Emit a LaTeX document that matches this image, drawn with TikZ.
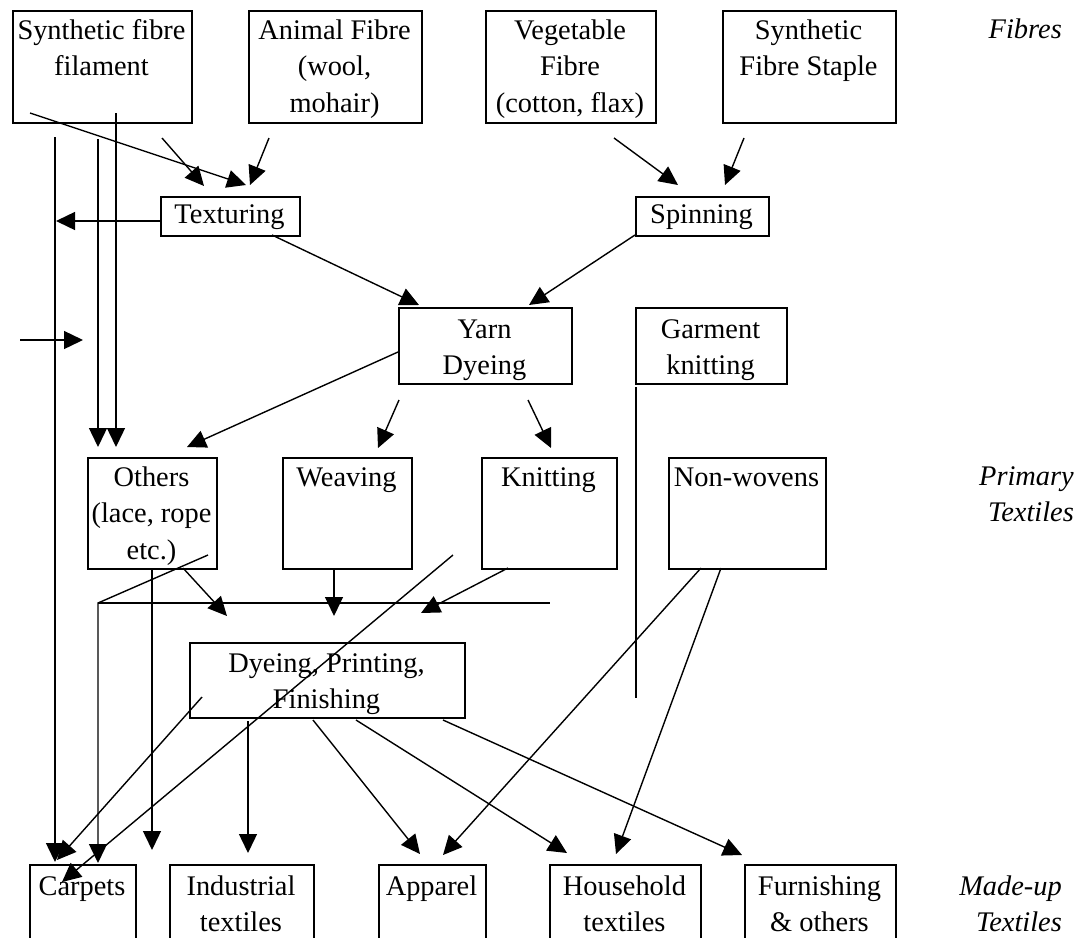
\documentclass[tikz,border=0pt]{standalone}
\usepackage{fontspec}
\setmainfont{Liberation Serif}
\usetikzlibrary{arrows.meta}
\begin{document}
\begin{tikzpicture}[x=1pt,y=-1pt,
  box/.style={draw, line width=1.5pt, inner sep=0pt, anchor=north west},
  txt/.style={anchor=north, inner sep=0pt, align=center, yshift=25.55pt, font=\fontsize{28.4}{36.5}\selectfont},
  lbl/.style={anchor=north east, inner sep=0pt, align=right, yshift=25.55pt, font=\fontsize{28.4}{36.5}\selectfont\itshape},
  con/.style={line width=1.4pt},
  arr/.style={con, -{Triangle[length=19pt,width=18pt]}}]
\useasboundingbox[fill=white] (0,0) rectangle (1083,937);
\clip (0,0) rectangle (1083,937);

% ---- boxes ----
\node[box, minimum width=179pt, minimum height=112pt] (sff)  at (12,10) {};
\node[box, minimum width=173pt, minimum height=112pt] (anim) at (248,10) {};
\node[box, minimum width=170pt, minimum height=112pt] (veg)  at (485,10) {};
\node[box, minimum width=173pt, minimum height=112pt] (stap) at (722,10) {};
\node[box, minimum width=139pt, minimum height=39pt]  (tex)  at (160,196) {};
\node[box, minimum width=133pt, minimum height=39pt]  (spin) at (635,196) {};
\node[box, minimum width=173pt, minimum height=76pt]  (yarn) at (398,307) {};
\node[box, minimum width=151pt, minimum height=76pt]  (garm) at (635,307) {};
\node[box, minimum width=129pt, minimum height=111pt] (oth)  at (87,457) {};
\node[box, minimum width=129pt, minimum height=111pt] (weav) at (282,457) {};
\node[box, minimum width=135pt, minimum height=111pt] (knit) at (481,457) {};
\node[box, minimum width=157pt, minimum height=111pt] (nonw) at (668,457) {};
\node[box, minimum width=275pt, minimum height=75pt]  (dpf)  at (189,642) {};
\node[box, minimum width=106pt, minimum height=100pt] (carp) at (29,864) {};
\node[box, minimum width=144pt, minimum height=100pt] (ind)  at (169,864) {};
\node[box, minimum width=107pt, minimum height=100pt] (app)  at (378,864) {};
\node[box, minimum width=151pt, minimum height=100pt] (hous) at (549,864) {};
\node[box, minimum width=151pt, minimum height=100pt] (furn) at (744,864) {};

% ---- texts ----
\node[txt] (sff-t)  at (101.5,39) {\strut Synthetic fibre\\filament};
\node[txt] (anim-t) at (334.5,39) {\strut Animal Fibre\\(wool,\\mohair)};
\node[txt] (veg-t)  at (570,39)   {\strut Vegetable\\Fibre\\(cotton, flax)};
\node[txt] (stap-t) at (808.5,39) {\strut Synthetic\\Fibre Staple};
\node[txt] (tex-t)  at (229.5,223) {\strut Texturing};
\node[txt] (spin-t) at (701.5,223) {\strut Spinning};
\node[txt] (yarn-t) at (484.5,338) {\strut Yarn\\Dyeing};
\node[txt] (garm-t) at (710.5,338) {\strut Garment\\knitting};
\node[txt] (oth-t)  at (151.5,486) {\strut Others\\(lace, rope\\etc.)};
\node[txt] (weav-t) at (346.5,486) {\strut Weaving};
\node[txt] (knit-t) at (548.5,486) {\strut Knitting};
\node[txt] (nonw-t) at (746.5,486) {\strut Non-wovens};
\node[txt] (dpf-t)  at (326.5,672) {\strut Dyeing, Printing,\\Finishing};
\node[txt] (carp-t) at (82,895)    {\strut Carpets};
\node[txt] (ind-t)  at (241,895)   {\strut Industrial\\textiles};
\node[txt] (app-t)  at (431.5,895) {\strut Apparel};
\node[txt] (hous-t) at (624.5,895) {\strut Household\\textiles};
\node[txt] (furn-t) at (819.5,895) {\strut Furnishing\\\& others};
\node[lbl] (fib)  at (1062,38)  {\strut Fibres};
\node[lbl] (prim) at (1074,485) {\strut Primary\\Textiles};
\node[lbl] (made) at (1062,895) {\strut Made-up\\Textiles};

% ---- connector end points ----
\coordinate (a1) at (30,113);   \coordinate (b1) at (246,185);
\coordinate (a2) at (162,138);  \coordinate (b2) at (204,186);
\coordinate (a3) at (269,138);  \coordinate (b3) at (250,185);
\coordinate (v1a) at (55,137);  \coordinate (v1b) at (55,862);
\coordinate (v2a) at (98,139);  \coordinate (v2b) at (98,447);
\coordinate (v3a) at (116,113); \coordinate (v3b) at (116,447);
\coordinate (t1) at (160,221);  \coordinate (t2) at (56,221);
\coordinate (f1) at (20,340);   \coordinate (f2) at (83,340);
\coordinate (ty1) at (272,235); \coordinate (ty2) at (419,305);
\coordinate (sy1) at (635,235); \coordinate (sy2) at (529,305);
\coordinate (vs1) at (614,138); \coordinate (vs2) at (678,185);
\coordinate (ss1) at (744,138); \coordinate (ss2) at (725,185);
\coordinate (yo1) at (398,352); \coordinate (yo2) at (187,447);
\coordinate (yw1) at (399,400); \coordinate (yw2) at (378,448);
\coordinate (yk1) at (528,400); \coordinate (yk2) at (551,448);
\coordinate (g1) at (636,387);  \coordinate (g2) at (636,698);
\coordinate (o1) at (208,555);  \coordinate (o2) at (98,603); \coordinate (o3) at (98,863);
\coordinate (h2) at (550,603);
\coordinate (ov1) at (152,568); \coordinate (ov2) at (152,850);
\coordinate (od1) at (183,568); \coordinate (od2) at (227,616);
\coordinate (wd1) at (334,568); \coordinate (wd2) at (334,616);
\coordinate (kd1) at (508,568); \coordinate (kd2) at (421,613);
\coordinate (ld1) at (453,555); \coordinate (ld2) at (62,882);
\coordinate (dc1) at (202,697); \coordinate (dc2) at (57,860);
\coordinate (di1) at (248,721); \coordinate (di2) at (248,853);
\coordinate (da1) at (313,720); \coordinate (da2) at (420,854);
\coordinate (dh1) at (356,720); \coordinate (dh2) at (567,853);
\coordinate (df1) at (443,720); \coordinate (df2) at (742,855);
\coordinate (na1) at (701,568); \coordinate (na2) at (443,855);
\coordinate (nh1) at (721,568); \coordinate (nh2) at (616,854);

% ---- connectors ----
\draw[arr] (a1) -- (b1);
\draw[arr] (a2) -- (b2);
\draw[arr] (a3) -- (b3);
\draw[arr] (v1a) -- (v1b);
\draw[arr] (v2a) -- (v2b);
\draw[arr] (v3a) -- (v3b);
\draw[arr] (t1) -- (t2);
\draw[arr] (f1) -- (f2);
\draw[arr] (ty1) -- (ty2);
\draw[arr] (sy1) -- (sy2);
\draw[arr] (vs1) -- (vs2);
\draw[arr] (ss1) -- (ss2);
\draw[arr] (yo1) -- (yo2);
\draw[arr] (yw1) -- (yw2);
\draw[arr] (yk1) -- (yk2);
\draw[con] (g1) -- (g2);
\draw[arr] (o1) -- (o2) -- (o3);
\draw[con] (o2) -- (h2);
\draw[arr] (ov1) -- (ov2);
\draw[arr] (od1) -- (od2);
\draw[arr] (wd1) -- (wd2);
\draw[arr] (kd1) -- (kd2);
\draw[arr] (ld1) -- (ld2);
\draw[arr] (dc1) -- (dc2);
\draw[arr] (di1) -- (di2);
\draw[arr] (da1) -- (da2);
\draw[arr] (dh1) -- (dh2);
\draw[arr] (df1) -- (df2);
\draw[arr] (na1) -- (na2);
\draw[arr] (nh1) -- (nh2);
\end{tikzpicture}
\end{document}
